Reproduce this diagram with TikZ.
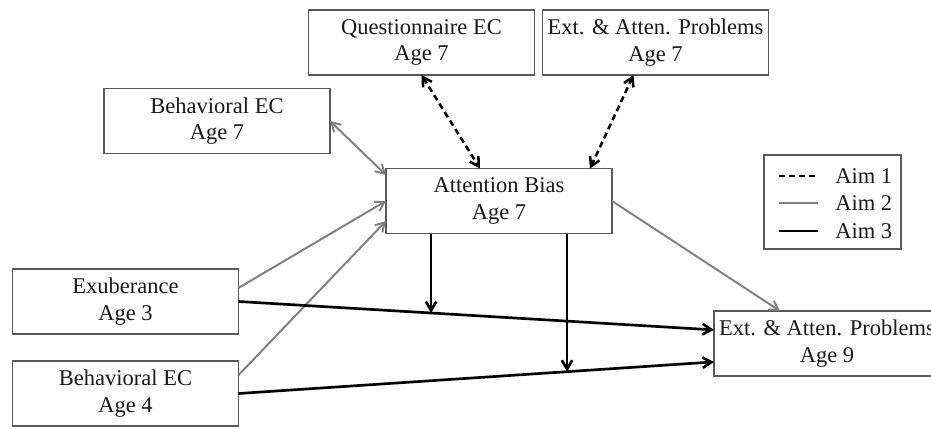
\documentclass[tikz,border=0pt]{standalone}
\usepackage{fontspec}
\setmainfont{Liberation Serif}
\usetikzlibrary{arrows.meta}
\usetikzlibrary{calc,positioning}

\tikzset{
	varbox/.style={draw=black!65, line width=1pt, fill=white, minimum width=5.65cm,
		minimum height=1.625cm, align=center, inner sep=0pt, outer sep=0pt,
		text=black!90, font=\fontsize{16}{19}\selectfont},
	aimone/.style={line width=1.8pt, black, dash pattern=on 4.3pt off 2.8pt},
	aimtwo/.style={line width=1.4pt, black!50},
	aimthree/.style={line width=1.9pt, black},
	aimtext/.style={anchor=west, inner sep=0pt, text=black!90, font=\fontsize{16}{19}\selectfont},
}

\begin{document}
\begin{tikzpicture}[x=0.025cm, y=-0.025cm, >={Straight Barb[length=2.2mm,width=2.6mm]}]
		\useasboundingbox (0,0) rectangle (931,428);
		\clip (0,0) rectangle (931,428);
		% variables
		\node[varbox] (qec) at (421.5,42.5) {Questionnaire EC\\Age 7};
		\node[varbox] (ext7) at (655.5,42.5) {Ext. \& Atten. Problems\\Age 7};
		\node[varbox] (bec7) at (217,121) {Behavioral EC\\Age 7};
		\node[varbox] (bias) at (499,201) {Attention Bias\\Age 7};
		\node[varbox] (exub) at (125.5,301.5) {Exuberance\\Age 3};
		\node[varbox] (bec4) at (125.5,393.5) {Behavioral EC\\Age 4};
		\node[varbox] (ext9) at (827,343.5) {Ext. \& Atten. Problems\\Age 9};
		% aim 1
		\draw[aimone,<->] (qec.south) -- ([xshift=-0.475cm]bias.north);
		\draw[aimone,<->] ([xshift=-0.55cm]ext7.south) -- ([xshift=2.275cm]bias.north);
		% aim 2
		\draw[aimtwo,<->] (bec7.east) -- ([yshift=0.65cm]bias.west);
		\draw[aimtwo,->] ([yshift=0.34cm]exub.east) -- (bias.west);
		\draw[aimtwo,->] ([yshift=0.46cm]bec4.east) -- ([yshift=-0.5cm]bias.west);
		\draw[aimtwo,->] (bias.east) -- ([xshift=-1.175cm]ext9.north);
		% aim 3
		\draw[aimthree,->] (exub.east) -- coordinate[pos=0.405] (mod1) ([yshift=0.34cm]ext9.west);
		\draw[aimthree,->] (bec4.east) -- coordinate[pos=0.691] (mod2) ([yshift=-0.46cm]ext9.west);
		\draw[aimthree,->] (bias.south -| mod1) -- (mod1);
		\draw[aimthree,->] (bias.south -| mod2) -- (mod2);
		% legend
		\node[draw=black!65, line width=1pt, minimum width=3.425cm, minimum height=2.35cm, outer sep=0pt] (legend) at (832.5,202) {};
		\node[aimtext] (aim1) at (835,176) {Aim 1};
		\node[aimtext] (aim2) at (835,203) {Aim 2};
		\node[aimtext] (aim3) at (835,231) {Aim 3};
		\draw[aimone] ([xshift=-1.4cm]aim1.west) -- ([xshift=-0.425cm]aim1.west);
		\draw[aimtwo] ([xshift=-1.4cm]aim2.west) -- ([xshift=-0.425cm]aim2.west);
		\draw[aimthree] ([xshift=-1.4cm]aim3.west) -- ([xshift=-0.425cm]aim3.west);
	\end{tikzpicture}
\end{document}
